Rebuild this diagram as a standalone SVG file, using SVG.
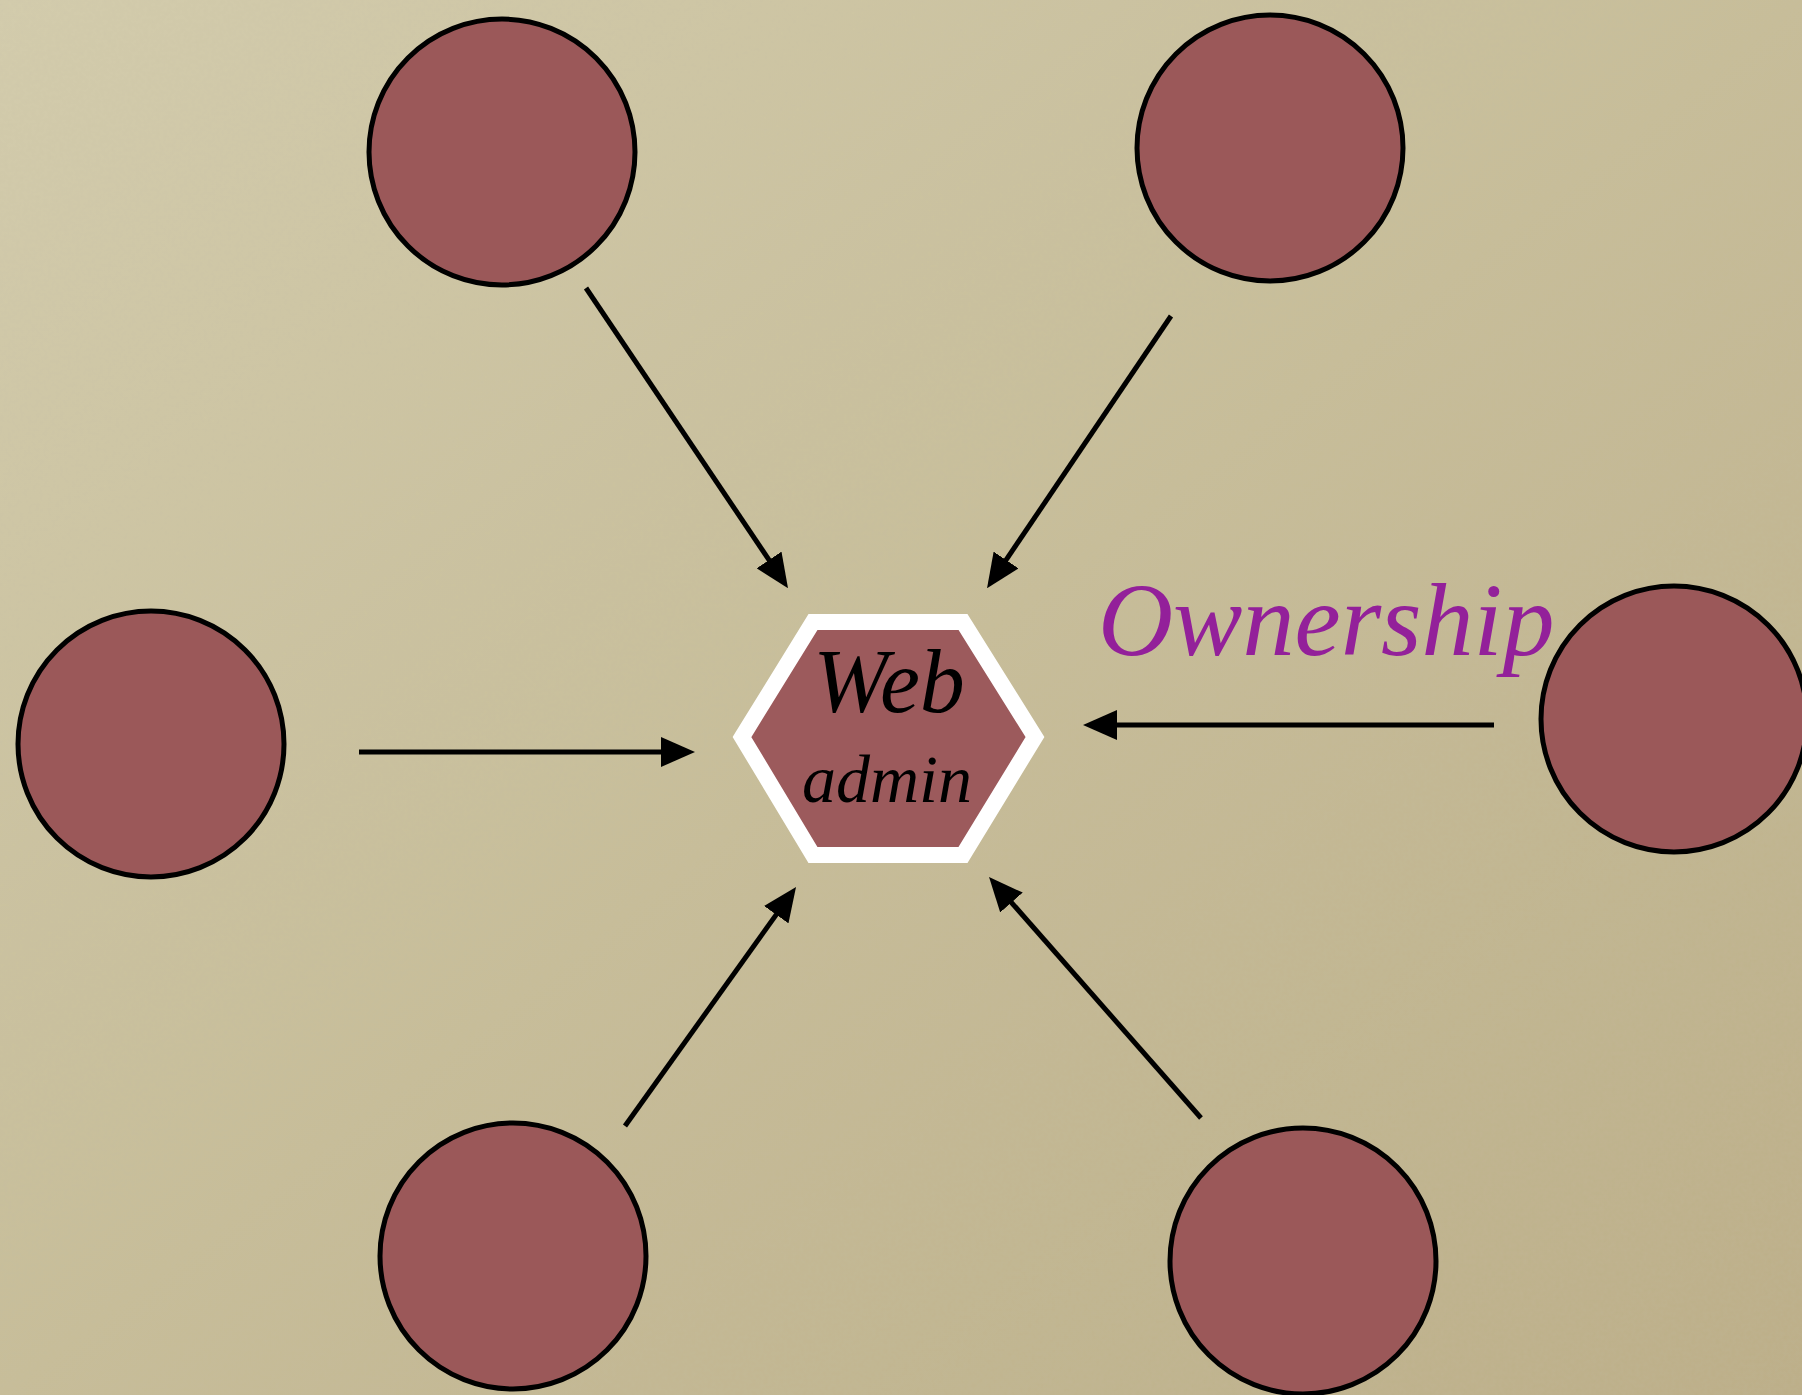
<svg xmlns="http://www.w3.org/2000/svg" width="1802" height="1395" viewBox="0 0 1802 1395">
  <defs>
    <linearGradient id="bg" x1="0" y1="0" x2="1" y2="1">
      <stop offset="0" stop-color="#d4cdad"/>
      <stop offset="0.5" stop-color="#c7bd98"/>
      <stop offset="1" stop-color="#bcae87"/>
    </linearGradient>
    <filter id="paper" x="0" y="0" width="100%" height="100%">
      <feTurbulence type="fractalNoise" baseFrequency="0.25" numOctaves="3" seed="3" result="n"/>
      <feColorMatrix in="n" type="matrix" values="0 0 0 0 0.55  0 0 0 0 0.5  0 0 0 0 0.38  0 0 0 0.22 0"/>
    </filter>
    <marker id="ah" markerUnits="userSpaceOnUse" markerWidth="34" markerHeight="30" refX="8" refY="15" orient="auto" viewBox="0 0 34 30">
      <path d="M0,0 L34,15 L0,30 z" fill="#000"/>
    </marker>
    <style>
      .node { fill: #9b5859; stroke: #000; stroke-width: 5; }
      .conn { stroke: #000; stroke-width: 5; fill: none; marker-end: url(#ah); }
      .lbl { font-family: "Liberation Serif", "Times New Roman", serif; font-style: italic; }
    </style>
  </defs>
  <rect width="1802" height="1395" fill="url(#bg)"/>
  <rect width="1802" height="1395" filter="url(#paper)"/>

  <g id="connectors">
    <line class="conn" x1="586" y1="288" x2="773.5" y2="566.6"/>
    <line class="conn" x1="1171" y1="316" x2="1001.6" y2="566.6"/>
    <line class="conn" x1="359" y1="752" x2="669" y2="752"/>
    <line class="conn" x1="1494" y1="725" x2="1109" y2="725"/>
    <line class="conn" x1="625" y1="1126" x2="780.9" y2="908.1"/>
    <line class="conn" x1="1201" y1="1118" x2="1006.2" y2="896.5"/>
  </g>

  <g id="node-top-left"><circle class="node" cx="502" cy="152" r="133"/></g>
  <g id="node-top-right"><circle class="node" cx="1270" cy="148" r="133"/></g>
  <g id="node-left"><circle class="node" cx="151" cy="744" r="133"/></g>
  <g id="node-right"><circle class="node" cx="1674" cy="719" r="133"/></g>
  <g id="node-bottom-left"><circle class="node" cx="513" cy="1256" r="133"/></g>
  <g id="node-bottom-right"><circle class="node" cx="1303" cy="1261" r="133"/></g>

  <g id="node-web-admin">
    <polygon points="742,737 813,622 963,622 1035,737 963,855 813,855" fill="#9c5a5c" stroke="#fff" stroke-width="16" stroke-linejoin="miter"/>
    <text class="lbl" x="889" y="712" font-size="90" text-anchor="middle" fill="#000">Web</text>
    <text class="lbl" x="887" y="802" font-size="68" text-anchor="middle" fill="#000">admin</text>
  </g>

  <g id="label-ownership">
    <text class="lbl" x="1098" y="655" font-size="104" fill="#93209a">Ownership</text>
  </g>
</svg>
